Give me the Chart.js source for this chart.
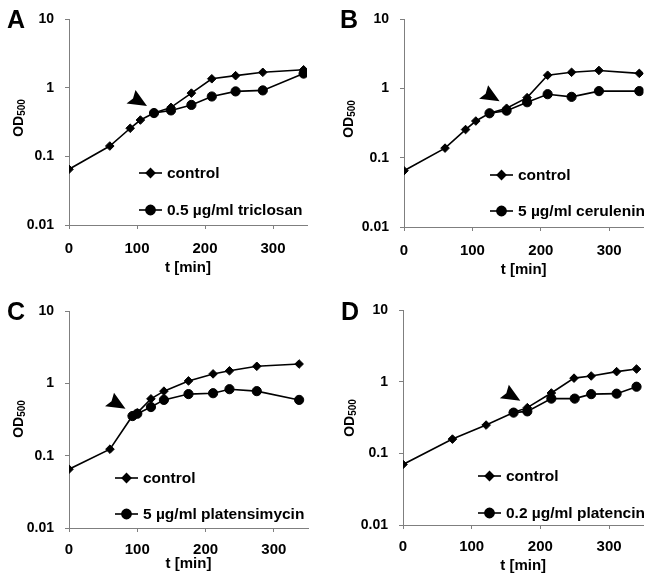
<!DOCTYPE html>
<html>
<head>
<meta charset="utf-8">
<script src="https://cdn.jsdelivr.net/npm/chart.js@4"></script>
<style>
  html, body { margin: 0; padding: 0; background: #fff; }
  #wrap { position: relative; width: 649px; height: 578px; overflow: hidden; }
  canvas { position: absolute; }
</style>
</head>
<body>
<div id="wrap">
  <canvas id="panelA" width="324" height="289" style="left:0;top:0"></canvas>
  <canvas id="panelB" width="325" height="289" style="left:324px;top:0"></canvas>
  <canvas id="panelC" width="324" height="289" style="left:0;top:289px"></canvas>
  <canvas id="panelD" width="325" height="289" style="left:324px;top:289px"></canvas>
</div>
<script>
// axes
const xTicks = [0, 100, 200, 300];
const yTicks = [0.01, 0.1, 1, 10];
const yTickLabels = ['0.01', '0.1', '1', '10'];

// A - triclosan
const ctrlTimeA = [0, 60, 90, 105, 125, 150, 180, 210, 245, 285, 345];
const ctrlOdA   = [0.065, 0.142, 0.258, 0.34, 0.43, 0.52, 0.84, 1.36, 1.51, 1.69, 1.84];
const drugTimeA = [125, 150, 180, 210, 245, 285, 345];
const drugOdA   = [0.43, 0.47, 0.565, 0.75, 0.89, 0.92, 1.62];

// B - cerulenin
const ctrlTimeB = [0, 60, 90, 105, 125, 150, 180, 210, 245, 285, 344];
const ctrlOdB   = [0.065, 0.138, 0.256, 0.34, 0.44, 0.52, 0.74, 1.56, 1.72, 1.83, 1.66];
const drugTimeB = [125, 150, 180, 210, 245, 285, 344];
const drugOdB   = [0.44, 0.48, 0.635, 0.83, 0.76, 0.92, 0.92];

// C - platensimycin
const ctrlTimeC = [0, 60, 93, 100, 120, 139, 175, 211, 235, 275, 337];
const ctrlOdC   = [0.065, 0.123, 0.357, 0.39, 0.61, 0.78, 1.08, 1.35, 1.49, 1.72, 1.85];
const drugTimeC = [93, 100, 120, 139, 175, 211, 235, 275, 337];
const drugOdC   = [0.353, 0.38, 0.47, 0.59, 0.71, 0.73, 0.83, 0.78, 0.59];

// D - platencin
const ctrlTimeD = [0, 72, 121, 161, 181, 216, 249, 274, 311, 340];
const ctrlOdD   = [0.070, 0.158, 0.248, 0.37, 0.434, 0.695, 1.12, 1.2, 1.38, 1.5];
const drugTimeD = [161, 181, 216, 250, 274, 311, 340];
const drugOdD   = [0.37, 0.385, 0.58, 0.58, 0.67, 0.68, 0.85];

const ctrlLabel = 'control';
const drugLabels = ['0.5 µg/ml triclosan', '5 µg/ml cerulenin', '5 µg/ml platensimycin', '0.2 µg/ml platencin'];
const panelLetters = ['A', 'B', 'C', 'D'];
// index of the control point where the drug was added (arrowhead)
const addIndex = [4, 5, 2, 4];

const FONT = '"Liberation Sans", Arial, sans-serif';
const axisGray = '#7f7f7f';

// layout of each panel, canvas coordinates
const layouts = [
  { id: 'panelA', w: 324, h: 289, left: 69, top: 14, right: 307, bottom: 225, letter: [7, 28],  od: [23, 118],  legX: 139, legY: [173, 210], xPad: 11, xTitleY: 272 },
  { id: 'panelB', w: 325, h: 289, left: 80, top: 14, right: 324, bottom: 227, letter: [16, 28], od: [29, 119],  legX: 166, legY: [175, 211], xPad: 11, xTitleY: 274 },
  { id: 'panelC', w: 324, h: 289, left: 69, top: 22, right: 308, bottom: 239, letter: [7, 31],  od: [23, 130],  legX: 115, legY: [189, 225], xPad: 9,  xTitleY: 279 },
  { id: 'panelD', w: 325, h: 289, left: 79, top: 21, right: 325, bottom: 236, letter: [17, 31], od: [30, 129],  legX: 154, legY: [187, 224], xPad: 9,  xTitleY: 281 }
];

function pts(ts, vs) {
  return ts.map((t, i) => ({ x: t, y: vs[i] }));
}

const decor = {
  id: 'decor',
  afterDraw(chart) {
    const L = chart.options.plugins.decor;
    const ctx = chart.ctx;
    const area = chart.chartArea;
    ctx.save();
    ctx.fillStyle = '#000';
    ctx.strokeStyle = '#000';

    // panel letter
    ctx.font = 'bold 25px ' + FONT;
    ctx.textAlign = 'left';
    ctx.textBaseline = 'alphabetic';
    ctx.fillText(L.letter, L.pos.letter[0], L.pos.letter[1]);

    // y title OD500
    ctx.save();
    ctx.translate(L.pos.od[0], L.pos.od[1]);
    ctx.rotate(-Math.PI / 2);
    ctx.font = 'bold 14px ' + FONT;
    const wOD = ctx.measureText('OD').width;
    ctx.font = 'bold 10px ' + FONT;
    const wSub = ctx.measureText('500').width;
    const x0 = -(wOD + wSub) / 2;
    ctx.font = 'bold 14px ' + FONT;
    ctx.fillText('OD', x0, 0);
    ctx.font = 'bold 10px ' + FONT;
    ctx.fillText('500', x0 + wOD, 2);
    ctx.restore();

    // x title
    ctx.font = 'bold 15px ' + FONT;
    ctx.textAlign = 'center';
    ctx.fillText('t [min]', (area.left + area.right) / 2, L.pos.xTitleY);

    // legend
    ctx.textAlign = 'left';
    ctx.textBaseline = 'middle';
    ctx.font = 'bold 15.5px ' + FONT;
    chart.data.datasets.forEach((ds, i) => {
      const y = L.pos.legY[i];
      const x = L.pos.legX;
      ctx.lineWidth = ds.borderWidth;
      ctx.beginPath();
      ctx.moveTo(x, y);
      ctx.lineTo(x + 23, y);
      ctx.stroke();
      Chart.helpers.drawPoint(ctx, { pointStyle: ds.pointStyle, radius: ds.pointRadius, rotation: 0, borderWidth: 1 }, x + 11.5, y);
      ctx.fill();
      ctx.fillText(ds.label, x + 28, y + 1);
    });

    // arrowhead pointing at the addition point
    const xs = chart.scales.x, ys = chart.scales.y;
    const tx = xs.getPixelForValue(L.arrowAt.x) - 7;
    const ty = ys.getPixelForValue(L.arrowAt.y) - 7;
    ctx.beginPath();
    ctx.moveTo(tx, ty);
    ctx.lineTo(tx - 11.5, ty - 16);
    ctx.lineTo(tx - 14, ty - 7.5);
    ctx.lineTo(tx - 20.5, ty - 2.5);
    ctx.closePath();
    ctx.fill();
    ctx.restore();
  }
};

function makePanel(k, ctrlT, ctrlV, drugT, drugV) {
  const pos = layouts[k];
  const tickFontY = { family: FONT, size: 14, weight: 'bold' };
  const tickFontX = { family: FONT, size: 15, weight: 'bold' };
  return new Chart(document.getElementById(pos.id), {
    type: 'line',
    data: {
      datasets: [
        {
          label: ctrlLabel,
          data: pts(ctrlT, ctrlV),
          borderColor: '#000', backgroundColor: '#000', borderWidth: 1.6,
          pointStyle: 'rectRot', pointRadius: 4.3, pointBorderWidth: 1,
          tension: 0
        },
        {
          label: drugLabels[k],
          data: pts(drugT, drugV),
          borderColor: '#000', backgroundColor: '#000', borderWidth: 1.6,
          pointStyle: 'circle', pointRadius: 4.6, pointBorderWidth: 1,
          tension: 0
        }
      ]
    },
    options: {
      responsive: false,
      animation: false,
      events: [],
      layout: { padding: { left: 0, top: pos.top, right: pos.w - pos.right, bottom: 0 } },
      scales: {
        x: {
          type: 'linear', min: 0, max: 350,
          afterBuildTicks: s => { s.ticks = xTicks.map(v => ({ value: v })); },
          afterFit: s => { s.height = pos.h - pos.bottom; },
          grid: { drawOnChartArea: false, drawTicks: true, tickLength: 4, color: axisGray, lineWidth: 1 },
          border: { color: axisGray, width: 1 },
          ticks: { color: '#000', font: tickFontX, padding: pos.xPad, maxRotation: 0, autoSkip: false }
        },
        y: {
          type: 'logarithmic', min: 0.01, max: 10,
          afterBuildTicks: s => { s.ticks = yTicks.map(v => ({ value: v })); },
          afterFit: s => { s.width = pos.left; },
          grid: { drawOnChartArea: false, drawTicks: true, tickLength: 4, color: axisGray, lineWidth: 1 },
          border: { color: axisGray, width: 1 },
          ticks: {
            color: '#000', font: tickFontY, padding: 11, autoSkip: false,
            callback: v => yTickLabels[yTicks.indexOf(v)] ?? ''
          }
        }
      },
      plugins: {
        legend: { display: false },
        tooltip: { enabled: false },
        decor: {
          letter: panelLetters[k],
          pos: pos,
          arrowAt: { x: ctrlT[addIndex[k]], y: ctrlV[addIndex[k]] }
        }
      }
    },
    plugins: [decor]
  });
}

makePanel(0, ctrlTimeA, ctrlOdA, drugTimeA, drugOdA);
makePanel(1, ctrlTimeB, ctrlOdB, drugTimeB, drugOdB);
makePanel(2, ctrlTimeC, ctrlOdC, drugTimeC, drugOdC);
makePanel(3, ctrlTimeD, ctrlOdD, drugTimeD, drugOdD);
</script>
</body>
</html>
